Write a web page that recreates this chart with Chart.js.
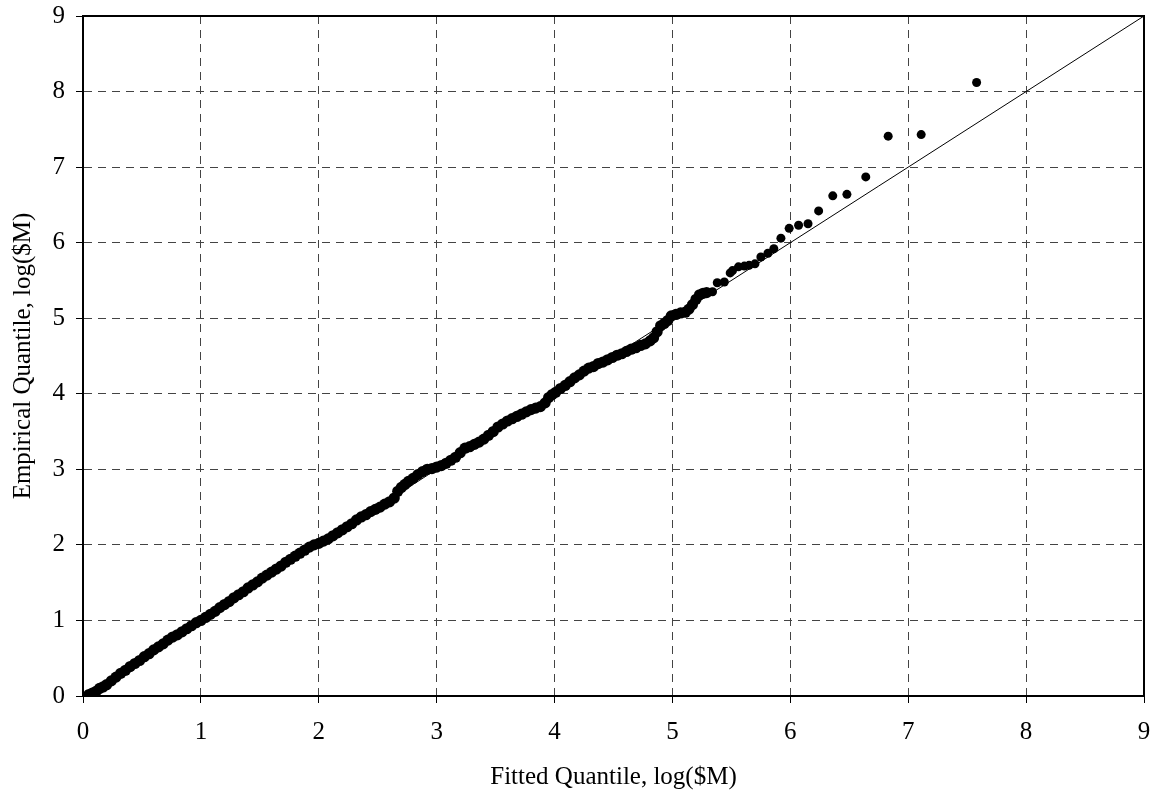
<!DOCTYPE html>
<html>
<head>
<meta charset="utf-8">
<script src="https://cdn.jsdelivr.net/npm/chart.js@4"></script>
<style>
  html, body { margin: 0; padding: 0; background: #fff; }
  #wrap { width: 1154px; height: 796px; position: relative; }
</style>
</head>
<body>
<div id="wrap"><canvas id="c"></canvas></div>
<script>
// Axis tick values
const xTicks = [0, 1, 2, 3, 4, 5, 6, 7, 8, 9];
const yTicks = [0, 1, 2, 3, 4, 5, 6, 7, 8, 9];

// Fitted quantiles (x)
const fittedQuantile = [
  0.05,0.08,0.11,0.14,0.17,0.20,0.24,0.28,0.32,0.36,0.40,0.44,0.48,0.52,0.56,0.60,0.64,0.68,0.72,0.76,0.80,0.84,0.88,0.92,0.96,1.00,
  1.04,1.08,1.12,1.16,1.20,1.24,1.28,1.32,1.36,1.40,1.44,1.48,1.52,1.56,1.60,1.64,1.68,1.72,1.76,1.80,1.84,1.88,1.92,1.96,2.00,
  2.04,2.08,2.12,2.16,2.20,2.24,2.28,2.32,2.36,2.40,2.44,2.48,2.52,2.56,2.60,2.64,2.67,2.70,2.73,2.76,2.80,2.84,2.88,2.92,2.96,3.00,3.04,3.08,
  3.12,3.16,3.20,3.24,3.28,3.32,3.36,3.40,3.44,3.48,3.52,3.56,3.60,3.64,3.68,3.72,3.76,3.80,3.84,3.88,3.92,
  3.95,3.98,4.01,4.05,4.09,4.13,4.17,4.21,4.25,4.29,4.33,4.37,4.41,4.45,4.49,4.53,4.57,4.61,4.65,4.69,4.73,4.77,4.81,
  4.84,4.87,4.90,4.93,4.96,4.99,5.03,5.07,5.11,5.14,5.17,5.20,5.23,5.26,5.29,5.34,5.38,5.44,5.49,5.51,5.56,5.61,5.65,5.70,
  5.75,5.81,5.86,5.92,5.99,6.07,6.15,6.24,6.36,6.48,6.64,6.83,7.11,7.58
];

// Empirical quantiles (y)
const empiricalQuantile = [
  0.02,0.04,0.06,0.10,0.12,0.15,0.20,0.25,0.30,0.34,0.39,0.43,0.47,0.52,0.56,0.61,0.65,0.69,0.74,0.78,0.81,0.85,0.89,0.93,0.97,1.00,
  1.04,1.08,1.12,1.17,1.21,1.25,1.30,1.34,1.38,1.43,1.47,1.51,1.56,1.60,1.64,1.68,1.72,1.77,1.81,1.85,1.89,1.93,1.97,2.00,2.02,
  2.05,2.08,2.12,2.16,2.20,2.24,2.28,2.33,2.37,2.40,2.44,2.47,2.50,2.54,2.57,2.62,2.71,2.76,2.80,2.84,2.88,2.93,2.97,3.00,3.01,3.03,3.05,3.08,
  3.12,3.16,3.22,3.28,3.30,3.33,3.36,3.40,3.45,3.50,3.56,3.60,3.64,3.67,3.70,3.73,3.76,3.79,3.81,3.83,3.88,
  3.95,3.99,4.02,4.07,4.11,4.16,4.21,4.25,4.30,4.34,4.36,4.40,4.42,4.45,4.48,4.51,4.53,4.56,4.59,4.61,4.64,4.66,4.70,
  4.74,4.82,4.90,4.93,4.97,5.03,5.05,5.07,5.08,5.12,5.18,5.25,5.31,5.33,5.34,5.35,5.47,5.48,5.60,5.63,5.68,5.69,5.70,5.72,
  5.81,5.86,5.92,6.06,6.19,6.23,6.25,6.42,6.62,6.64,6.87,7.41,7.43,8.12
];

// Reference 45-degree line end points
const refLineX = [0, 9];
const refLineY = [0, 9];

const qqPoints = fittedQuantile.map((x, i) => ({ x: x, y: empiricalQuantile[i] }));
const refPoints = refLineX.map((x, i) => ({ x: x, y: refLineY[i] }));

const FONT = '"Liberation Serif", "Times New Roman", serif';

const frameBox = {
  id: 'frameBox',
  afterDraw(chart) {
    const { ctx, chartArea: a } = chart;
    ctx.save();
    ctx.strokeStyle = '#000';
    ctx.lineWidth = 2;
    ctx.strokeRect(a.left, a.top, a.right - a.left, a.bottom - a.top);
    ctx.restore();
  }
};

new Chart(document.getElementById('c'), {
  type: 'scatter',
  data: {
    datasets: [
      {
        label: 'Reference',
        data: refPoints,
        showLine: true,
        borderColor: '#000',
        borderWidth: 1,
        pointRadius: 0,
        order: 2
      },
      {
        label: 'Quantiles',
        data: qqPoints,
        showLine: false,
        backgroundColor: '#000',
        borderWidth: 0,
        // dense body of the plot drawn as a heavier band, sparse tail as single dots
        pointRadius: (ctx) => (ctx.raw && ctx.raw.x < 5.3 ? 5.6 : 4.5),
        order: 1
      }
    ]
  },
  plugins: [frameBox],
  options: {
    responsive: true,
    maintainAspectRatio: false,
    animation: false,
    layout: { padding: { left: 0, right: 10, top: 16, bottom: 0 } },
    plugins: {
      legend: { display: false },
      tooltip: { enabled: false },
      title: { display: false }
    },
    scales: {
      x: {
        type: 'linear',
        min: xTicks[0],
        max: xTicks[xTicks.length - 1],
        afterBuildTicks(scale) { scale.ticks = xTicks.map(v => ({ value: v })); },
        afterFit(scale) {
          scale.height = 100;
          scale.paddingLeft = 0; scale.paddingRight = 0;
          scale.paddingTop = 0; scale.paddingBottom = 0;
        },
        ticks: {
          color: '#000',
          padding: 14,
          font: { family: FONT, size: 25 }
        },
        grid: {
          color: '#444',
          lineWidth: 1,
          tickLength: 7,
          tickColor: '#000',
          tickWidth: 1
        },
        border: { display: true, color: '#000', width: 2, dash: [8, 6] },
        title: {
          display: true,
          text: 'Fitted Quantile, log($M)',
          color: '#000',
          font: { family: FONT, size: 25 },
          padding: { top: 0, bottom: 4 }
        }
      },
      y: {
        type: 'linear',
        min: yTicks[0],
        max: yTicks[yTicks.length - 1],
        afterBuildTicks(scale) { scale.ticks = yTicks.map(v => ({ value: v })); },
        afterFit(scale) {
          scale.width = 83;
          scale.paddingLeft = 0; scale.paddingRight = 0;
          scale.paddingTop = 0; scale.paddingBottom = 0;
        },
        ticks: {
          color: '#000',
          padding: 11,
          font: { family: FONT, size: 25 }
        },
        grid: {
          color: '#444',
          lineWidth: 1,
          tickLength: 7,
          tickColor: '#000',
          tickWidth: 1
        },
        border: { display: true, color: '#000', width: 2, dash: [8, 6] },
        title: {
          display: true,
          text: 'Empirical Quantile, log($M)',
          color: '#000',
          font: { family: FONT, size: 25 },
          padding: { top: 8, bottom: 0 }
        }
      }
    }
  }
});
</script>
</body>
</html>
